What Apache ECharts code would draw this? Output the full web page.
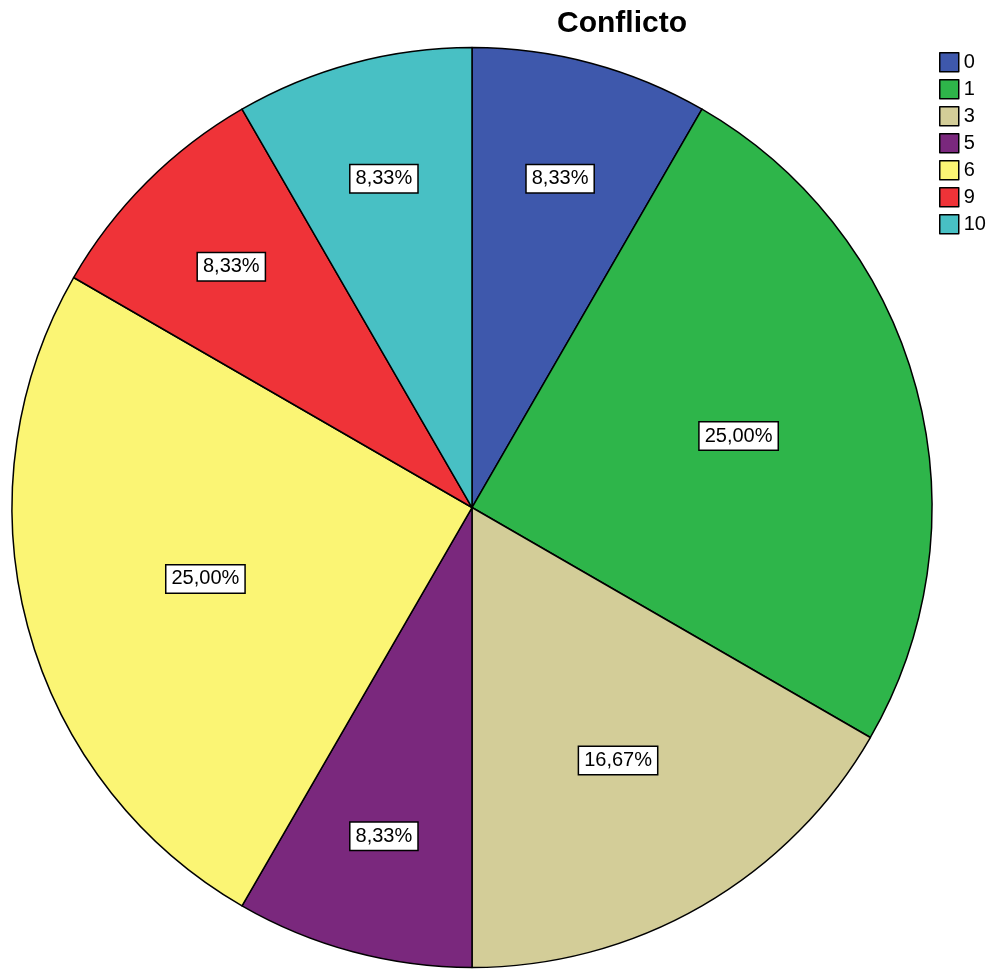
<!DOCTYPE html>
<html>
<head>
<meta charset="utf-8">
<script src="https://cdn.jsdelivr.net/npm/echarts@6/dist/echarts.min.js"></script>
<style>html,body{margin:0;padding:0;background:#fff}#c{width:992px;height:970px}</style>
</head>
<body>
<div id="c"></div>
<script>
const categories = ['0', '1', '3', '5', '6', '9', '10'];
const counts = [1, 3, 2, 1, 3, 1, 1];
const colors = ['#3E58AC', '#2EB54A', '#D3CD98', '#7A287D', '#FBF574', '#EF3338', '#48C0C4'];
const titleText = 'Conflicto';

const CX = 472, CY = 507.5, R = 460;
const total = counts.reduce((a, b) => a + b, 0);
const midAngles = [], spanDeg = [];
let acc = 0;
counts.forEach(v => {
  midAngles.push((acc + v / 2) / total * 2 * Math.PI);
  spanDeg.push(v / total * 360);
  acc += v;
});

const chart = echarts.init(document.getElementById('c'), null, {renderer: 'canvas'});
chart.setOption({
  animation: false,
  backgroundColor: '#fff',
  title: {
    text: titleText,
    left: 552, top: 4,
    textStyle: {fontFamily: 'Liberation Sans', fontWeight: 'bold', fontSize: 30, color: '#000'}
  },
  legend: {
    orient: 'vertical',
    left: 939, top: 52,
    padding: 0,
    itemWidth: 19, itemHeight: 19, itemGap: 6.5,
    icon: 'rect',
    data: categories,
    itemStyle: {borderColor: '#000', borderWidth: 1.5},
    textStyle: {fontFamily: 'Liberation Sans', fontSize: 20, color: '#000'}
  },
  series: [{
    type: 'pie',
    center: [CX, CY],
    radius: [0, R],
    startAngle: 90,
    clockwise: true,
    avoidLabelOverlap: false,
    itemStyle: {borderColor: '#000', borderWidth: 1.5},
    label: {
      show: true,
      position: 'inside',
      formatter: p => (p.value / total * 100).toFixed(2).replace('.', ',') + '%',
      fontFamily: 'Liberation Sans', fontSize: 20, color: '#000',
      backgroundColor: '#fff', borderColor: '#000', borderWidth: 1.5,
      padding: [4, 5, 3, 5]
    },
    labelLayout: p => {
      const a = midAngles[p.dataIndex];
      const d = R * (0.53 + 6.3 / spanDeg[p.dataIndex]);
      return {x: CX + d * Math.sin(a), y: CY - d * Math.cos(a), align: 'center', verticalAlign: 'middle'};
    },
    labelLine: {show: false},
    emphasis: {disabled: true},
    data: categories.map((c, i) => ({name: c, value: counts[i], itemStyle: {color: colors[i]}}))
  }]
});
</script>
</body>
</html>
